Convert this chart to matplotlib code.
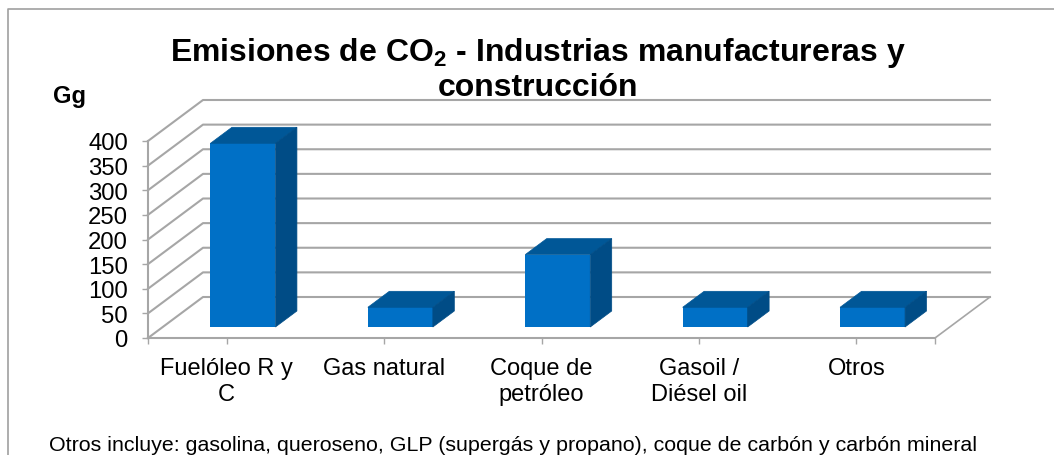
import numpy as np
import matplotlib
matplotlib.use('Agg')
import matplotlib.pyplot as plt

plt.rcParams['font.family'] = ['Liberation Sans', 'DejaVu Sans']
plt.rcParams['mathtext.default'] = 'regular'

categories = ['Fuelóleo R y\nC', 'Gas natural', 'Coque de\npetróleo', 'Gasoil /\nDiésel oil', 'Otros']
emisiones = [373, 40, 147, 40, 40]
y_ticks = [0, 50, 100, 150, 200, 250, 300, 350, 400]

W, H = 1054, 456
fig = plt.figure(figsize=(W / 100, H / 100), dpi=100)
ax = fig.add_axes([148 / W, (H - 339) / H, (935 - 148) / W, (339 - 142) / H])
ax.set_xlim(-0.5, 4.5)
ax.set_ylim(0, 400)

# fake 3d: full depth of the box in data units
px_x = 157.4
px_y = 197 / 400
depth_x = 55 / px_x
depth_y = 41 / px_y

grey = '#a6a6a6'

# walls
for v in y_ticks:
    ax.plot([-0.5, -0.5 + depth_x, 4.5 + depth_x],
            [v, v + depth_y, v + depth_y],
            color=grey, lw=1.5, clip_on=False, zorder=1)
ax.plot([4.5, 4.5 + depth_x], [0, depth_y], color=grey, lw=1.2, clip_on=False, zorder=1)

# bars
front = 11 / 41
back = 27 / 41
bar_w = 65 / px_x
for i, v in enumerate(emisiones):
    x0 = i + front * depth_x - bar_w / 2 + 1.5 / px_x
    x1 = x0 + bar_w
    y0 = front * depth_y
    dx = (back - front) * depth_x
    dy = (back - front) * depth_y
    ax.bar(x0, v, width=bar_w, bottom=y0, align='edge', color='#0070c6', clip_on=False, zorder=3)
    ax.fill([x0, x1, x1 + dx, x0 + dx], [y0 + v, y0 + v, y0 + v + dy, y0 + v + dy],
            color='#005797', lw=0.5, clip_on=False, zorder=3)
    ax.fill([x1, x1 + dx, x1 + dx, x1], [y0, y0 + dy, y0 + v + dy, y0 + v],
            color='#004c86', lw=0.5, clip_on=False, zorder=3)

for s in ['top', 'right']:
    ax.spines[s].set_visible(False)
for s in ['left', 'bottom']:
    ax.spines[s].set_color(grey)
    ax.spines[s].set_linewidth(1.5)

ax.set_yticks(y_ticks)
ax.set_xticks(range(len(categories)))
ax.set_xticklabels(categories, linespacing=1.24)
ax.set_xticks([-0.5, 4.5], minor=True)
ax.tick_params(axis='x', which='both', length=4, color=grey, width=1, labelsize=17, pad=9.5)
ax.tick_params(axis='y', length=4.5, color=grey, width=1, labelsize=17.2, pad=10)

fig.text(538 / W, 1 - 53 / H, 'Emisiones de CO$_2$ - Industrias manufactureras y',
         ha='center', va='center', fontsize=23, fontweight='bold')
fig.text(538 / W, 1 - 88 / H, 'construcción', ha='center', va='center', fontsize=23, fontweight='bold')
fig.text(53 / W, 1 - 97 / H, 'Gg', ha='left', va='center', fontsize=17, fontweight='bold')
fig.text(49 / W, 1 - 446 / H,
         'Otros incluye: gasolina, queroseno, GLP (supergás y propano), coque de carbón y carbón mineral',
         ha='left', va='center', fontsize=15.4)

# frame, only top and left are inside the picture
fig.add_artist(plt.Line2D([8 / W, 8 / W, 1], [0, 1 - 10 / H, 1 - 10 / H], color='#a0a0a0', lw=1.2))

fig.savefig('out.png', dpi=100)
